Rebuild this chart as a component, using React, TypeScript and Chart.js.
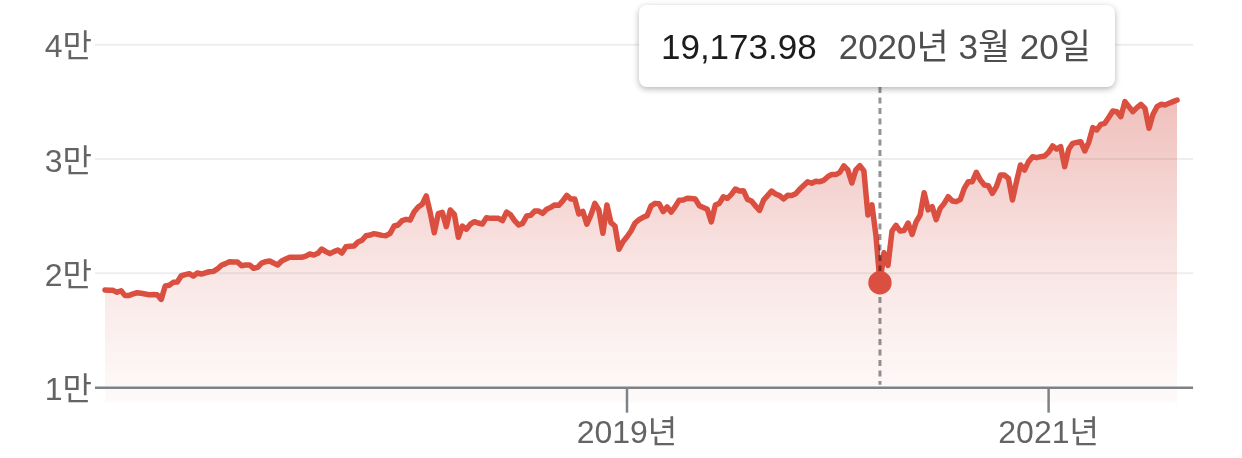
import React, { useEffect, useRef } from 'react';
import { Chart, registerables } from 'chart.js';

Chart.register(...registerables);

// Weekly closes
const START_DATE_UTC = Date.UTC(2016, 6, 8);
const WEEK_DAYS = 7;
// Fridays when the market was closed: that week's close is dated one day earlier
const marketHolidayFridays = ['2017-04-14', '2018-03-30', '2019-04-19', '2020-04-10', '2020-07-03', '2020-12-25', '2021-01-01', '2021-04-02'];

const closes: number[] = [
  18540, 18520, 18510, 18340, 18480, 18050, 18070, 18200, 18300, 18250,
  18190, 18130, 18140, 18130, 17720, 18890, 18950, 19210, 19240, 19790,
  19880, 19970, 19760, 20030, 19940, 20050, 20140, 20170, 20380, 20700,
  20850, 21020, 20990, 20990, 20670, 20730, 20730, 20440, 20520, 20900,
  21020, 21080, 20900, 20730, 21080, 21250, 21400, 21400, 21400, 21400,
  21500, 21690, 21600, 21750, 22130, 21900, 21720, 21900, 22040, 21780,
  22330, 22360, 22390, 22740, 22890, 23290, 23350, 23470, 23400, 23320,
  23290, 23500, 24140, 24230, 24610, 24720, 24660, 25390, 25800, 26040,
  26770, 25300, 23550, 25220, 25340, 24080, 25540, 25160, 23150, 24140,
  23850, 24300, 24520, 24400, 24310, 24870, 24810, 24810, 24810, 24610,
  25360, 25130, 24610, 24230, 24370, 25010, 25070, 25450, 25450, 25250,
  25600, 25770, 25980, 25950, 26330, 26820, 26500, 26500, 25190, 25420,
  24310, 25100, 26120, 25540, 23500, 25980, 24430, 24140, 22100, 22770,
  23200, 23700, 24400, 24700, 24900, 25050, 25900, 26120, 26080, 25400,
  25800, 25350, 25830, 26400, 26410, 26560, 26540, 26500, 25920, 25760,
  25600, 24500, 25975, 26120, 26700, 26560, 26910, 27375, 27200, 27230,
  26470, 26320, 25900, 25500, 26400, 26800, 27200, 26940, 26800, 26500,
  26820, 26800, 26960, 27350, 27680, 28010, 27880, 28050, 28020, 28140,
  28450, 28650, 28640, 28830, 29400, 29050, 27900, 29050, 29420, 28960,
  25100, 26000, 23300, 19173.98, 21800, 20700, 23700, 24200, 23700, 23750,
  24400, 23400, 24500, 25100, 27050, 25550, 25830, 24700, 25680, 26120,
  26700, 26330, 26270, 26450, 27433, 28017, 28017, 28833, 28163, 27725,
  27667, 26996, 27579, 28600, 28600, 28308, 26413, 28017, 29475, 29038,
  29767, 30205, 30117, 30205, 30263, 30584, 31138, 30875, 31080, 29330,
  30846, 31371, 31450, 31517, 30700, 31459, 32742, 32538, 33034, 33121,
  33647, 34201, 34142, 33705, 35018, 34580, 34142, 34492, 34784, 34434,
  32684, 33909, 34580, 34784, 34726, 34871, 35018, 35163,
];

const yGridValues = [10000, 20000, 30000, 40000];
const yTickLabels = ['1만', '2만', '3만', '4만'];
const axisValue = 10000;
const xTickYears = [2019, 2021];
const xTickLabels = ['2019년', '2021년'];
const highlightIndex = 193;

const Y_MIN = 8630;
const Y_MAX = 40000;

const LINE_COLOR = 'rgb(219,79,64)';
const FONT_FAMILY = '"Liberation Sans", Arial, "Noto Sans CJK KR", sans-serif';

const dates = closes.map((_, i) => {
  const d = new Date(START_DATE_UTC + i * WEEK_DAYS * 86400000);
  const iso = d.toISOString().slice(0, 10);
  return marketHolidayFridays.includes(iso) ? new Date(d.getTime() - 86400000) : d;
});

function firstIndexOfYear(year: number): number {
  return dates.findIndex((d) => d.getUTCFullYear() === year);
}

function formatValue(v: number): string {
  return v.toLocaleString('en-US', { minimumFractionDigits: 2, maximumFractionDigits: 2 });
}

function formatDate(d: Date): string {
  return `${d.getUTCFullYear()}년 ${d.getUTCMonth() + 1}월 ${d.getUTCDate()}일`;
}

const overlayPlugin = {
  id: 'overlay',
  beforeDatasetsDraw(chart: any) {
    const { ctx, chartArea, scales } = chart;
    const y = scales.y;
    const left = chartArea.left - 10;
    const right = chartArea.right + 16;
    ctx.save();
    yGridValues.forEach((v, k) => {
      const py = y.getPixelForValue(v);
      if (v !== axisValue) {
        ctx.strokeStyle = '#eeeeee';
        ctx.lineWidth = 2;
        ctx.beginPath();
        ctx.moveTo(left, py);
        ctx.lineTo(right, py);
        ctx.stroke();
      }
      ctx.fillStyle = '#646464';
      ctx.font = `32px ${FONT_FAMILY}`;
      ctx.textAlign = 'right';
      ctx.textBaseline = 'alphabetic';
      ctx.fillText(yTickLabels[k], left - 3, py + 12.5);
    });
    ctx.restore();
  },
  afterDatasetsDraw(chart: any) {
    const { ctx, chartArea, scales } = chart;
    const x = scales.x;
    const y = scales.y;
    const left = chartArea.left - 10;
    const right = chartArea.right + 16;
    const axisY = y.getPixelForValue(axisValue);
    ctx.save();

    // axis line
    ctx.strokeStyle = '#7d8286';
    ctx.lineWidth = 2.5;
    ctx.beginPath();
    ctx.moveTo(left, axisY);
    ctx.lineTo(right, axisY);
    ctx.stroke();

    // x ticks + labels
    xTickYears.forEach((yr, k) => {
      const idx = firstIndexOfYear(yr);
      const px = x.getPixelForValue(idx);
      ctx.strokeStyle = '#7d8286';
      ctx.lineWidth = 2.5;
      ctx.beginPath();
      ctx.moveTo(px, axisY);
      ctx.lineTo(px, axisY + 25);
      ctx.stroke();
      ctx.fillStyle = '#646464';
      ctx.font = `32px ${FONT_FAMILY}`;
      ctx.textAlign = 'center';
      ctx.textBaseline = 'alphabetic';
      ctx.fillText(xTickLabels[k], px, axisY + 55);
    });

    // tooltip
    const hx = x.getPixelForValue(highlightIndex);
    const hy = y.getPixelForValue(closes[highlightIndex]);
    const valueText = formatValue(closes[highlightIndex]);
    const dateText = formatDate(dates[highlightIndex]);
    ctx.font = `35px ${FONT_FAMILY}`;
    const wVal = ctx.measureText(valueText).width;
    const wDate = ctx.measureText(dateText).width;
    const padL = 22;
    const padR = 24;
    const gap = 22;
    const boxW = padL + wVal + gap + wDate + padR;
    const boxTop = 5;
    const boxH = 82;
    const boxX = hx - 3 - boxW / 2;

    // dashed guide
    ctx.strokeStyle = 'rgba(0,0,0,0.42)';
    ctx.lineWidth = 3;
    ctx.setLineDash([6, 4.5]);
    ctx.beginPath();
    ctx.moveTo(hx, boxTop + boxH);
    ctx.lineTo(hx, axisY - 3);
    ctx.stroke();
    ctx.setLineDash([]);

    // highlighted point
    ctx.fillStyle = LINE_COLOR;
    ctx.beginPath();
    ctx.arc(hx, hy, 11.7, 0, Math.PI * 2);
    ctx.fill();

    // box
    ctx.save();
    ctx.shadowColor = 'rgba(0,0,0,0.3)';
    ctx.shadowBlur = 6;
    ctx.shadowOffsetY = 2;
    ctx.fillStyle = '#ffffff';
    ctx.beginPath();
    (ctx as any).roundRect(boxX, boxTop, boxW, boxH, 8);
    ctx.fill();
    ctx.restore();

    ctx.textAlign = 'left';
    ctx.textBaseline = 'alphabetic';
    ctx.font = `35px ${FONT_FAMILY}`;
    ctx.fillStyle = '#1c1c1c';
    ctx.fillText(valueText, boxX + padL, boxTop + 53.5);
    ctx.fillStyle = '#4e4e4e';
    ctx.fillText(dateText, boxX + padL + wVal + gap, boxTop + 53.5);

    ctx.restore();
  },
};

export default function App() {
  const canvasRef = useRef<HTMLCanvasElement | null>(null);

  useEffect(() => {
    const canvas = canvasRef.current;
    if (!canvas) return;
    const chart = new Chart(canvas, {
      type: 'line',
      data: {
        labels: closes.map((_, i) => i),
        datasets: [
          {
            data: closes.map((v, i) => ({ x: i, y: v })),
            borderColor: LINE_COLOR,
            borderWidth: 5.5,
            borderJoinStyle: 'round',
            borderCapStyle: 'round',
            pointRadius: 0,
            pointHoverRadius: 0,
            tension: 0,
            clip: false,
            fill: 'start',
            backgroundColor: (c: any) => {
              const ch = c.chart;
              const ca = ch.chartArea;
              if (!ca) return 'rgba(210,75,65,0.2)';
              const g = ch.ctx.createLinearGradient(0, ca.top, 0, ca.bottom);
              g.addColorStop(0, 'rgba(210,75,65,0.42)');
              g.addColorStop(0.6, 'rgba(210,75,65,0.15)');
              g.addColorStop(1, 'rgba(210,75,65,0.025)');
              return g;
            },
          },
        ],
      },
      options: {
        animation: false,
        responsive: false,
        events: [],
        layout: {
          padding: { left: 105, right: 64.9, top: 44.7, bottom: 54.7 },
        },
        plugins: {
          legend: { display: false },
          tooltip: { enabled: false },
        },
        scales: {
          x: { type: 'linear', display: false, min: 0, max: closes.length - 1 },
          y: { type: 'linear', display: false, min: Y_MIN, max: Y_MAX },
        },
      },
      plugins: [overlayPlugin],
    });
    return () => chart.destroy();
  }, []);

  return (
    <div style={{ position: 'fixed', left: 0, top: 0, width: 1242, height: 458, background: '#fff' }}>
      <canvas ref={canvasRef} width={1242} height={458} style={{ display: 'block' }} />
    </div>
  );
}
